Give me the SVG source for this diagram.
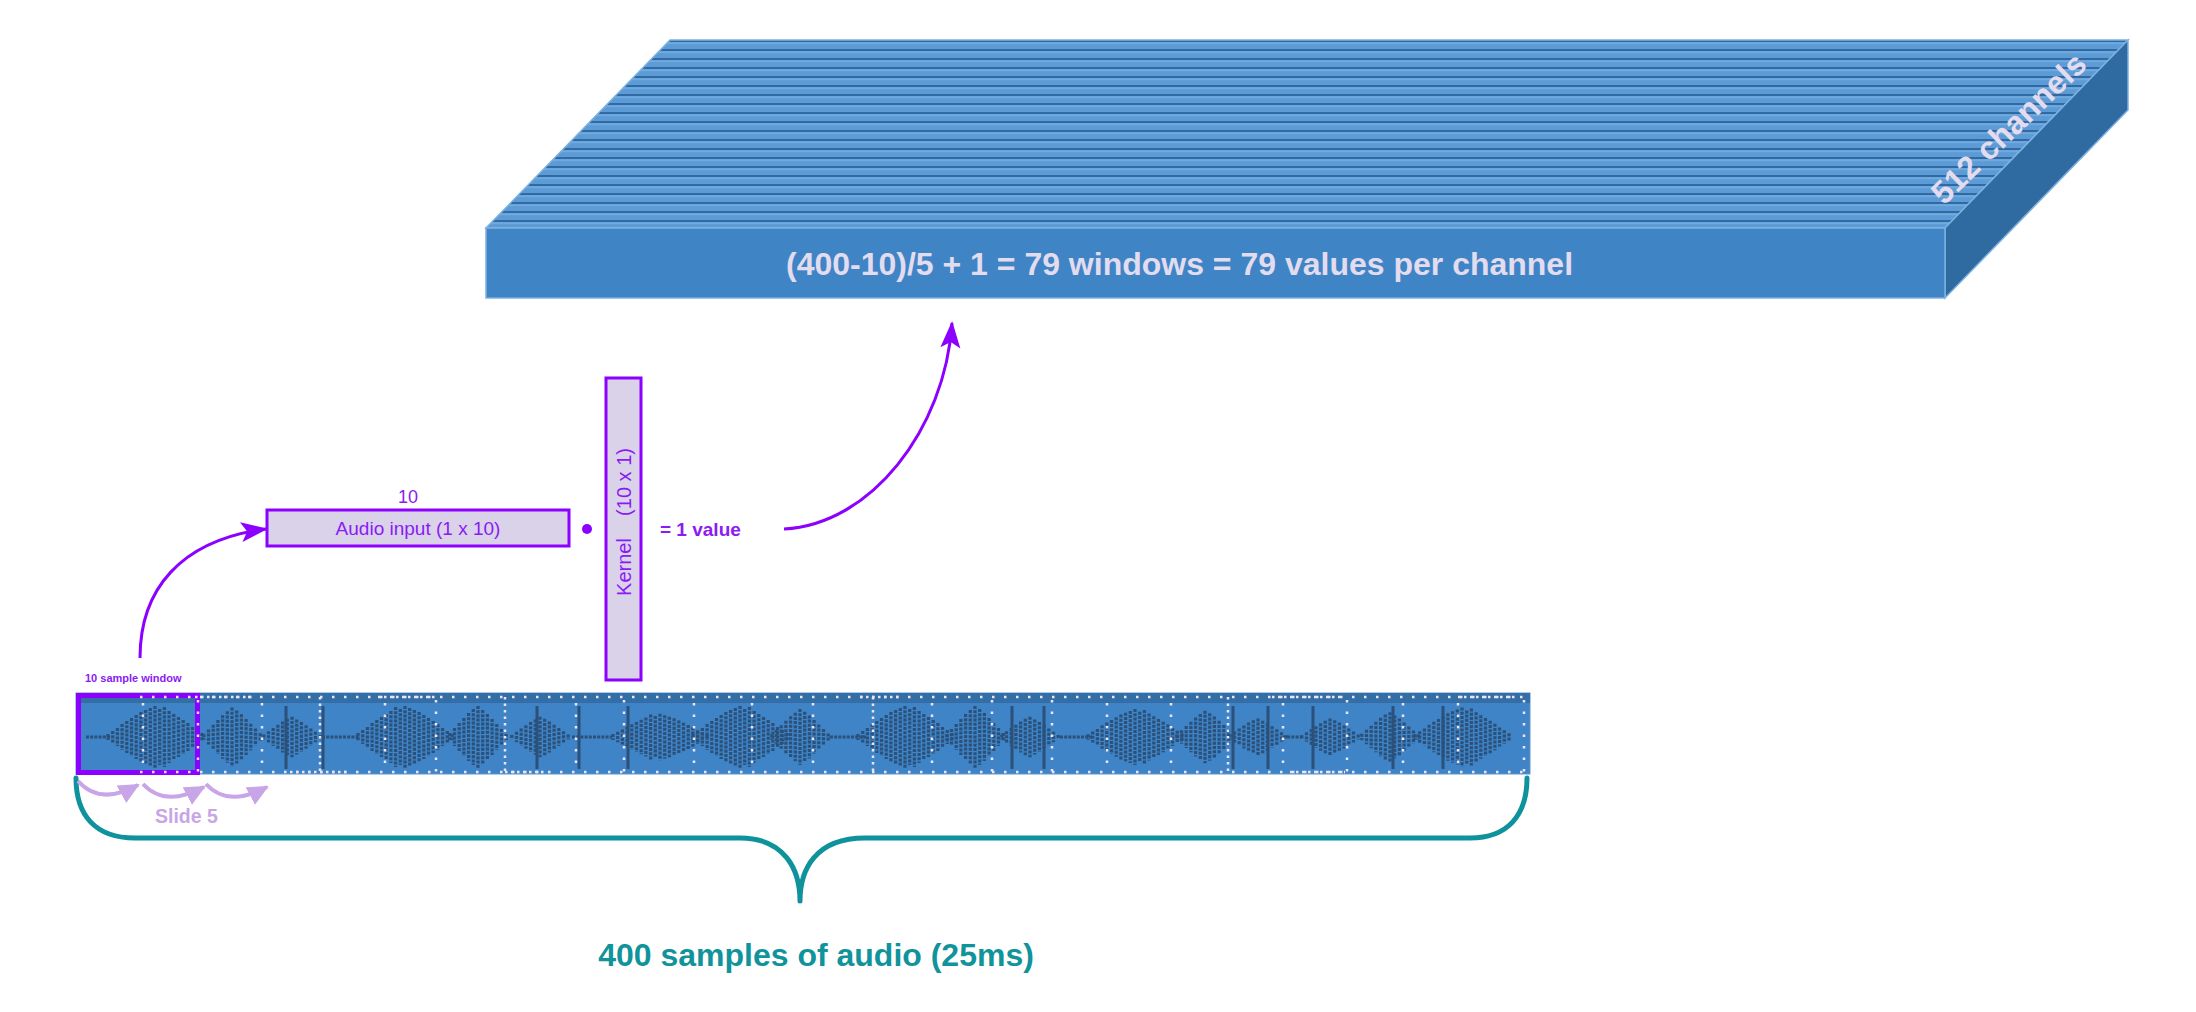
<svg xmlns="http://www.w3.org/2000/svg" width="2196" height="1012" viewBox="0 0 2196 1012">
<style>
.sans{font-family:"Liberation Sans",Arial,sans-serif}
.pstroke{stroke:#8B00FF;stroke-width:3;fill:none}
.box{fill:#D9D2E9;stroke:#8B00FF;stroke-width:3}
.ptext{fill:#8B1AF5}
.bar{fill:none;stroke:#2B5079;stroke-width:3.2;stroke-dasharray:3 1.2;vector-effect:non-scaling-stroke}
.wdot{fill:none;stroke:#EEE4F6;stroke-width:2.5}
.edge{stroke:#7DB1E0;stroke-width:1.5}
.slide{fill:none;stroke:#C8A5E6;stroke-width:4}
</style>
<defs>
<pattern id="stripes" patternUnits="userSpaceOnUse" x="0" y="40" width="40" height="9">
<rect x="0" y="0" width="40" height="9" fill="#5C9BD5"/>
<rect x="0" y="0" width="40" height="2.2" fill="#3169A3"/>
<rect x="0" y="2.2" width="40" height="2" fill="#6FAADF"/>
</pattern>
<marker id="ahP" markerUnits="userSpaceOnUse" markerWidth="28" markerHeight="22" refX="25" refY="10" orient="auto">
<path d="M0,0 L27,10 L0,20 L6,10 z" fill="#8B00FF"/>
</marker>
<marker id="ahS" markerUnits="userSpaceOnUse" markerWidth="24" markerHeight="22" refX="19" refY="10" orient="auto">
<path d="M0,0 L21,10 L0,20 z" fill="#C8A5E6"/>
</marker>
<path id="burstN" class="bar" d="M-28.2 -4V4M-23.5 -9V9M-18.8 -14V14M-14.1 -19V19M-9.4 -24V24M-4.7 -28V28M0 -31V31M4.7 -27V27M9.4 -23V23M14.1 -18V18M18.8 -13V13M23.5 -8V8M28.2 -3V3"/>
<path id="burstW" class="bar" d="M-47 -3V3M-42.3 -6V6M-37.6 -9V9M-32.9 -13V13M-28.2 -16V16M-23.5 -19V19M-18.8 -22V22M-14.1 -25V25M-9.4 -27V27M-4.7 -29V29M0 -31V31M4.7 -28V28M9.4 -30V30M14.1 -26V26M18.8 -23V23M23.5 -20V20M28.2 -17V17M32.9 -14V14M37.6 -10V10M42.3 -7V7M47 -4V4"/>
</defs>

<g id="channels-block">
<polygon points="670,40 2128,40 1945,228 486,228" fill="url(#stripes)" class="edge"/>
<polygon points="1945,228 2128,40 2128,110 1945,298" fill="#2F6BA1" class="edge"/>
<rect x="486" y="228" width="1459" height="70" fill="#3F85C6" class="edge"/>
<text class="sans" x="786" y="275" font-size="32" font-weight="bold" fill="#E3DCEF">(400-10)/5 + 1 = 79 windows = 79 values per channel</text>
<text class="sans" transform="translate(1944,206) rotate(-44)" font-size="32" font-weight="bold" fill="#E3DCEF">512 channels</text>
</g>

<g id="audio-input">
<text class="sans ptext" x="408" y="503" font-size="18" text-anchor="middle">10</text>
<rect class="box" x="267" y="510" width="302" height="36"/>
<text class="sans ptext" x="418" y="535" font-size="19" text-anchor="middle">Audio input (1 x 10)</text>
</g>

<g id="dot-operator">
<circle cx="587" cy="529" r="5" fill="#8B00FF"/>
</g>

<g id="kernel">
<rect class="box" x="606" y="378" width="35" height="302"/>
<text class="sans ptext" transform="translate(631,522) rotate(-90)" font-size="20" text-anchor="middle" style="white-space:pre">Kernel    (10 x 1)</text>
</g>

<g id="result">
<text class="sans ptext" x="660" y="536" font-size="19" font-weight="bold">= 1 value</text>
</g>

<g id="audio-strip">
<rect x="76" y="693" width="1454" height="81" fill="#3E84C6" stroke="#5E96CC" stroke-width="1"/>
<rect x="76" y="693" width="1454" height="10" fill="#336EA6"/>
<path class="bar" d="M86 737H110M322 737H360M572 737H612M830 737H866M1060 737H1092M1283 737H1302"/>
<use href="#burstW" transform="translate(155,737) scale(1,1)"/>
<use href="#burstN" transform="translate(232,737) scale(-1,0.95)"/>
<use href="#burstN" transform="translate(292,737) scale(1,0.65)"/>
<use href="#burstW" transform="translate(405,737) scale(-1,1)"/>
<use href="#burstN" transform="translate(478,737) scale(1,1)"/>
<use href="#burstN" transform="translate(540,737) scale(-1,0.65)"/>
<use href="#burstW" transform="translate(660,737) scale(-1,0.75)"/>
<use href="#burstW" transform="translate(740,737) scale(1,1)"/>
<use href="#burstN" transform="translate(800,737) scale(-1,0.9)"/>
<use href="#burstW" transform="translate(905,737) scale(1,1)"/>
<use href="#burstN" transform="translate(975,737) scale(-1,1)"/>
<use href="#burstN" transform="translate(1030,737) scale(1,0.65)"/>
<use href="#burstW" transform="translate(1135,737) scale(1,0.9)"/>
<use href="#burstN" transform="translate(1205,737) scale(-1,0.85)"/>
<use href="#burstN" transform="translate(1258,737) scale(1,0.6)"/>
<use href="#burstN" transform="translate(1330,737) scale(-1,0.6)"/>
<use href="#burstN" transform="translate(1390,737) scale(1,0.8)"/>
<use href="#burstW" transform="translate(1462,737) scale(1,0.95)"/>
<path fill="none" stroke="#2B5079" stroke-width="3" d="M286 706V769M323 706V769M537 706V769M579 706V769M628 706V769M1012 706V769M1044 706V769M1233 706V769M1268 706V769M1313 706V769M1393 706V769M1443 706V769"/>
<rect x="78.5" y="695.5" width="119" height="77" fill="none" stroke="#8B00FF" stroke-width="5"/>
<path class="wdot" stroke-dasharray="2.5 9.5" d="M140 697H1526M140 772H1526"/>
<path class="wdot" stroke-dasharray="2.5 3.5" d="M195 697H255M378 697H436M860 697H900M1272 697H1340M1458 697H1518M290 772H350M505 772H545M1290 772H1345"/>
<path class="wdot" stroke-dasharray="2.5 9" d="M143 703V772M198 700V772M262 703V772M385 703V772M436 700V772M576 703V772M624 700V772M694 703V772M752 703V772M813 703V772M932 703V772M992 700V772M1052 700V772M1107 703V772M1171 703V772M1283 703V772M1347 700V772M1403 703V772M1458 703V772M1524 700V772"/>
<path class="wdot" stroke-dasharray="2.5 4" d="M320 697V772M505 697V772M873 697V772M1228 697V772"/>
</g>

<g id="labels">
<text class="sans ptext" x="85" y="682" font-size="11" font-weight="bold">10 sample window</text>
<text class="sans" x="155" y="823" font-size="19.5" font-weight="bold" fill="#C8A5E6">Slide 5</text>
<text class="sans" x="816" y="966" font-size="32" font-weight="bold" fill="#11939B" text-anchor="middle">400 samples of audio (25ms)</text>
</g>

<g id="brace">
<path d="M76 778 C76 815 95 838 135 838 L740 838 C785 838 800 870 800 901 C800 870 815 838 865 838 L1470 838 C1508 838 1527 815 1527 778" fill="none" stroke="#0E929B" stroke-width="5" stroke-linecap="round" stroke-linejoin="round"/>
</g>

<g id="connectors">
<path class="pstroke" d="M140 658 C140 590 180 540 266 529" marker-end="url(#ahP)"/>
<path class="pstroke" d="M784 529 C870 525 945 430 952 323" marker-end="url(#ahP)"/>
<path class="slide" d="M78 781 Q100 806 138 785" marker-end="url(#ahS)"/>
<path class="slide" d="M143 784 Q165 808 204 787" marker-end="url(#ahS)"/>
<path class="slide" d="M206 784 Q228 808 267 787" marker-end="url(#ahS)"/>
</g>
</svg>
